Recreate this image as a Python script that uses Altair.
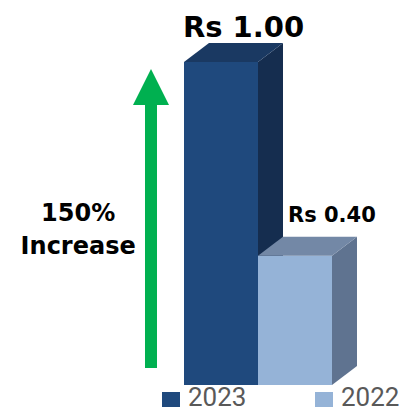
import altair as alt
import pandas as pd

# ---- data ----
years = ["2023", "2022"]
values = [1.00, 0.40]
value_labels = ["Rs 1.00", "Rs 0.40"]
label_x = [-0.015, 1.405]     # left edge of value label (bar units)
label_y = [1.077, 0.505]      # baseline of value label (value units)
label_size = [29, 21]
front_colors = ["#1F497D", "#95B3D7"]
top_colors = ["#1A3962", "#7388A6"]
side_colors = ["#152D4F", "#5F7390"]
note_lines = ["150%", "Increase"]
note_y = [0.508, 0.405]
legend_sym_x = [-0.1757, 1.8919]
legend_txt_x = [0.0541, 2.1216]
legend_sym_y = -0.0495
legend_txt_y = -0.066

# 3D depth of the bars (bar units / value units)
DX = 25 / 74
DY = 19 / 323

xscale = alt.Scale(domain=[-2.3784, 2.9054], nice=False, zero=False)
yscale = alt.Scale(domain=[-0.0681, 1.1672], nice=False, zero=False)

X = lambda f="x": alt.X(f"{f}:Q", scale=xscale, axis=None)
Y = lambda f="y": alt.Y(f"{f}:Q", scale=yscale, axis=None)

layers = []
for i, (yr, v) in enumerate(zip(years, values)):
    left, right = float(i), float(i + 1)
    front = pd.DataFrame({"x": [left], "x2": [right], "y": [0.0], "y2": [v]})
    layers.append(
        alt.Chart(front).mark_rect(color=front_colors[i]).encode(
            x=X(), x2="x2", y=Y(), y2="y2"
        )
    )
    side = pd.DataFrame({"x": [right, right + DX], "y": [v, v + DY], "y2": [0.0, DY]})
    layers.append(
        alt.Chart(side).mark_area(color=side_colors[i]).encode(x=X(), y=Y(), y2="y2")
    )
    top = pd.DataFrame({"y": [v, v + DY], "x": [left, left + DX], "x2": [right, right + DX]})
    layers.append(
        alt.Chart(top).mark_area(orient="horizontal", color=top_colors[i]).encode(
            y=Y(), x=X(), x2="x2"
        )
    )
    lab = pd.DataFrame({"t": [value_labels[i]], "x": [label_x[i]], "y": [label_y[i]]})
    layers.append(
        alt.Chart(lab).mark_text(
            font="DejaVu Sans", fontWeight="bold", fontSize=label_size[i],
            align="left", baseline="alphabetic", color="#000000",
        ).encode(x=X(), y=Y(), text="t:N")
    )

# legend
leg_sym = pd.DataFrame({"year": years, "x": legend_sym_x, "y": [legend_sym_y] * 2})
layers.append(
    alt.Chart(leg_sym).mark_point(shape="square", size=324, filled=True, opacity=1, strokeWidth=0).encode(
        x=X(), y=Y(),
        color=alt.Color("year:N", scale=alt.Scale(domain=years, range=front_colors), legend=None),
    )
)
leg_txt = pd.DataFrame({"year": years, "x": legend_txt_x, "y": [legend_txt_y] * 2})
layers.append(
    alt.Chart(leg_txt).mark_text(
        font="Roboto", fontSize=26, align="left", baseline="alphabetic", color="#595959"
    ).encode(x=X(), y=Y(), text="year:N")
)

# green arrow
arrow = pd.DataFrame({"x": [-0.446], "y": [0.053], "y2": [0.87]})
layers.append(
    alt.Chart(arrow).mark_rule(color="#00B050", strokeWidth=12).encode(x=X(), y=Y(), y2="y2")
)
head = pd.DataFrame({"x": [-0.446], "y": [0.923]})
layers.append(
    alt.Chart(head).mark_point(
        shape="M-1,1L0,-1L1,1Z", size=1296, filled=True, color="#00B050", opacity=1, strokeWidth=0,
    ).encode(x=X(), y=Y())
)
note = pd.DataFrame({"t": note_lines, "x": [-1.43, -1.43], "y": note_y})
layers.append(
    alt.Chart(note).mark_text(
        font="DejaVu Sans", fontWeight="bold", fontSize=24, align="center",
        baseline="alphabetic", color="#000000",
    ).encode(x=X(), y=Y(), text="t:N")
)

chart = alt.layer(*layers).properties(
    width=391, height=399, autosize="none", padding=0
).configure_view(stroke=None)

chart.save("out.html", embed_options={"renderer": "svg", "actions": False})
